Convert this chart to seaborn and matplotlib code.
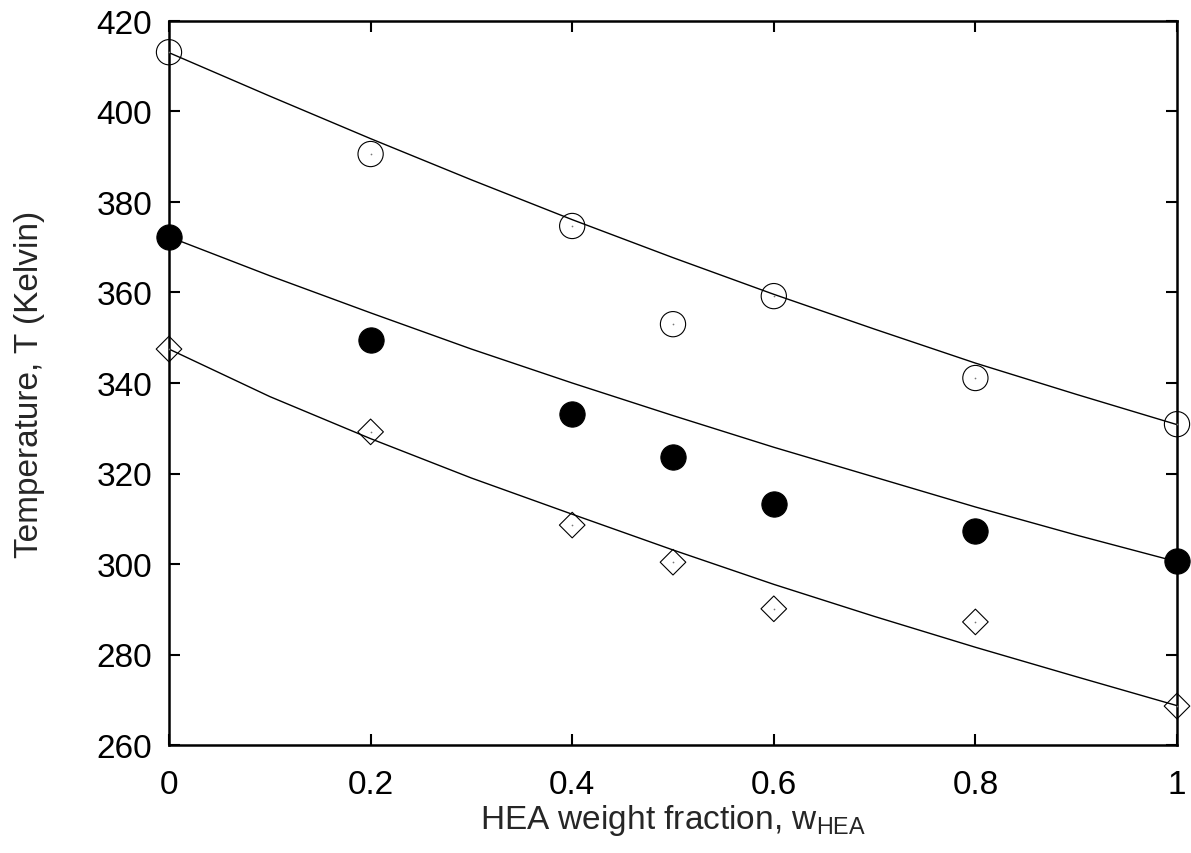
import numpy as np
import pandas as pd
import matplotlib
matplotlib.use("Agg")
import matplotlib.pyplot as plt
import seaborn as sns

# ---- data ----
w_points = [0.0, 0.2, 0.4, 0.5, 0.6, 0.8, 1.0]
T_open = [413.1, 390.6, 374.7, 353.0, 359.2, 341.1, 330.9]
T_filled = [372.3, 349.5, 333.1, 323.6, 313.3, 307.3, 300.7]
T_diamond = [347.5, 329.2, 308.6, 300.4, 290.1, 287.2, 268.6]

w_curve = [0.0, 0.1, 0.2, 0.3, 0.4, 0.5, 0.6, 0.7, 0.8, 0.9, 1.0]
curve_top = [413.0, 403.4, 394.0, 384.9, 376.1, 367.7, 359.6, 351.9, 344.4, 337.5, 330.8]
curve_mid = [372.3, 363.7, 355.5, 347.5, 340.0, 332.8, 325.8, 319.2, 312.6, 306.4, 300.5]
curve_bot = [347.5, 337.0, 327.7, 319.0, 311.0, 303.1, 295.5, 288.4, 281.6, 275.1, 268.7]

x_ticks = [0, 0.2, 0.4, 0.6, 0.8, 1]
x_ticklabels = ["0", "0.2", "0.4", "0.6", "0.8", "1"]
y_ticks = [260, 280, 300, 320, 340, 360, 380, 400, 420]

sns.set_style("ticks")
plt.rcParams["font.family"] = ["Liberation Sans", "DejaVu Sans"]
plt.rcParams["mathtext.default"] = "regular"
plt.rcParams["mathtext.fontset"] = "custom"
plt.rcParams["mathtext.rm"] = "Liberation Sans"

fig = plt.figure(figsize=(11.91, 8.54), dpi=100)
ax = fig.add_axes([169 / 1191, 1 - 746 / 854, (1177 - 169) / 1191, (746 - 22) / 854])

for c in (curve_top, curve_mid, curve_bot):
    sns.lineplot(x=w_curve, y=c, ax=ax, color="black", linewidth=1.0, sort=False, zorder=2)

ms = 330
sns.scatterplot(x=w_points, y=T_open, ax=ax, marker="o", s=ms, facecolor="none",
                edgecolor="black", linewidth=0.8, zorder=3, clip_on=False)
sns.scatterplot(x=w_points, y=T_filled, ax=ax, marker="o", s=ms, color="black",
                edgecolor="black", linewidth=0.8, zorder=3, clip_on=False)
sns.scatterplot(x=w_points, y=T_diamond, ax=ax, marker="D", s=170, facecolor="none",
                edgecolor="black", linewidth=0.8, zorder=3, clip_on=False)
# small centre dots (gnuplot style)
for ys in (T_open, T_diamond):
    sns.scatterplot(x=w_points, y=ys, ax=ax, marker="o", s=1.5, color="#777777",
                    linewidth=0, zorder=4, clip_on=False)

ax.set_xlim(0, 1)
ax.set_ylim(260, 420)
ax.set_xticks(x_ticks)
ax.set_xticklabels(x_ticklabels)
ax.set_yticks(y_ticks)

ax.tick_params(axis="both", which="major", direction="in", length=8, width=1.5,
               labelsize=24, top=True, right=True, colors="black")
ax.tick_params(axis="x", pad=17)
ax.tick_params(axis="y", pad=12)
for s in ax.spines.values():
    s.set_linewidth(1.8)
    s.set_color("black")
    s.set_visible(True)

ax.set_xlabel(r"HEA weight fraction, w$_{HEA}$", fontsize=24)
ax.set_ylabel("Temperature, T (Kelvin)", fontsize=24)
ax.xaxis.set_label_coords(0.5, -0.079)
ax.yaxis.set_label_coords(-0.123, 0.5)

fig.savefig("out.png", dpi=100)
